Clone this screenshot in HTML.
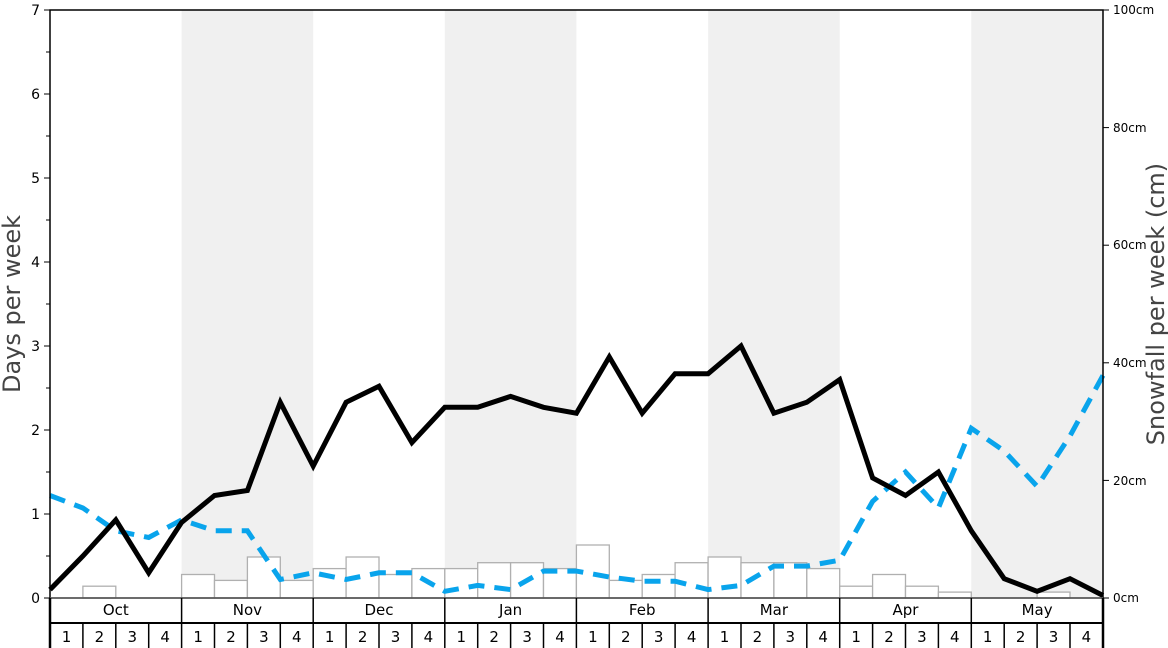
<!DOCTYPE html>
<html><head><meta charset="utf-8"><style>
html,body{margin:0;padding:0;background:#fff;}
svg{display:block;font-family:"DejaVu Sans","Liberation Sans",sans-serif;}
</style></head><body>
<svg width="1168" height="648" viewBox="0 0 1168 648" xmlns="http://www.w3.org/2000/svg">
<rect width="1168" height="648" fill="#fff"/>
<!-- shaded months -->
<rect x="181.6" y="10" width="131.6" height="588" fill="#f0f0f0"/>
<rect x="444.8" y="10" width="131.6" height="588" fill="#f0f0f0"/>
<rect x="708.1" y="10" width="131.6" height="588" fill="#f0f0f0"/>
<rect x="971.3" y="10" width="131.7" height="588" fill="#f0f0f0"/>
<!-- bars -->
<g fill="#fff" stroke="#b0b0b0" stroke-width="1.3">
<rect x="82.9" y="586.2" width="32.9" height="11.8"/>
<rect x="181.6" y="574.5" width="32.9" height="23.5"/>
<rect x="214.5" y="580.4" width="32.9" height="17.6"/>
<rect x="247.4" y="557" width="32.9" height="41"/>
<rect x="280.3" y="580.4" width="32.9" height="17.6"/>
<rect x="313.2" y="568.6" width="32.9" height="29.4"/>
<rect x="346.1" y="557" width="32.9" height="41"/>
<rect x="379" y="574.5" width="32.9" height="23.5"/>
<rect x="411.9" y="568.6" width="32.9" height="29.4"/>
<rect x="444.8" y="568.6" width="32.9" height="29.4"/>
<rect x="477.7" y="562.7" width="32.9" height="35.3"/>
<rect x="510.6" y="562.7" width="32.9" height="35.3"/>
<rect x="543.5" y="568.6" width="32.9" height="29.4"/>
<rect x="576.4" y="545" width="32.9" height="53"/>
<rect x="609.3" y="580.4" width="32.9" height="17.6"/>
<rect x="642.2" y="574.5" width="32.9" height="23.5"/>
<rect x="675.1" y="562.7" width="32.9" height="35.3"/>
<rect x="708.1" y="557" width="32.9" height="41"/>
<rect x="741" y="562.7" width="32.9" height="35.3"/>
<rect x="773.9" y="562.7" width="32.9" height="35.3"/>
<rect x="806.8" y="568.6" width="32.9" height="29.4"/>
<rect x="839.7" y="586.2" width="32.9" height="11.8"/>
<rect x="872.6" y="574.5" width="32.9" height="23.5"/>
<rect x="905.5" y="586.2" width="32.9" height="11.8"/>
<rect x="938.4" y="592.1" width="32.9" height="5.9"/>
<rect x="1037.1" y="592.1" width="32.9" height="5.9"/>
</g>
<!-- blue dashed -->
<polyline fill="none" stroke="#09a4ec" stroke-width="5" stroke-dasharray="16,10" points="50,495.5 82.9,508 115.8,530.8 148.7,537.5 181.6,519.9 214.5,530.8 247.4,530.8 280.3,579.5 313.2,572.8 346.1,579.5 379,572.8 411.9,572.8 444.8,591.3 477.7,585.4 510.6,589.6 543.5,571.1 576.4,571.1 609.3,577 642.2,581.2 675.1,581.2 708.1,589.6 741,585.4 773.9,566.1 806.8,566.1 839.7,560.2 872.6,501.4 905.5,472 938.4,508 971.3,428.3 1004.2,451 1037.1,486.3 1070,435.9 1103,375.4"/>
<!-- black line -->
<polyline fill="none" stroke="#000" stroke-width="5" stroke-linejoin="miter" points="50,589.6 82.9,556 115.8,519.9 148.7,572.8 181.6,522.4 214.5,495.5 247.4,490.5 280.3,402.3 313.2,466.1 346.1,402.3 379,386.3 411.9,442.6 444.8,407.3 477.7,407.3 510.6,396.4 543.5,407.3 576.4,413.2 609.3,356.9 642.2,413.2 675.1,373.7 708.1,373.7 741,346 773.9,413.2 806.8,402.3 839.7,379.6 872.6,477.9 905.5,495.5 938.4,472 971.3,530.8 1004.2,578.7 1037.1,591.3 1070,578.7 1103,595.5"/>
<!-- frame -->
<rect x="50" y="10" width="1053" height="588" fill="none" stroke="#000" stroke-width="1.5"/>
<line x1="50" y1="598" x2="1103" y2="598" stroke="#666" stroke-width="1.5"/>
<!-- left ticks -->
<g stroke="#000" stroke-width="1">
<line x1="44" y1="598" x2="50" y2="598"/><line x1="44" y1="514" x2="50" y2="514"/><line x1="44" y1="430" x2="50" y2="430"/><line x1="44" y1="346" x2="50" y2="346"/><line x1="44" y1="262" x2="50" y2="262"/><line x1="44" y1="178" x2="50" y2="178"/><line x1="44" y1="94" x2="50" y2="94"/><line x1="44" y1="10" x2="50" y2="10"/>
<line x1="46" y1="556" x2="50" y2="556"/><line x1="46" y1="472" x2="50" y2="472"/><line x1="46" y1="388" x2="50" y2="388"/><line x1="46" y1="304" x2="50" y2="304"/><line x1="46" y1="220" x2="50" y2="220"/><line x1="46" y1="136" x2="50" y2="136"/><line x1="46" y1="52" x2="50" y2="52"/>
<line x1="1103" y1="598" x2="1109" y2="598"/><line x1="1103" y1="480.4" x2="1109" y2="480.4"/><line x1="1103" y1="362.8" x2="1109" y2="362.8"/><line x1="1103" y1="245.2" x2="1109" y2="245.2"/><line x1="1103" y1="127.6" x2="1109" y2="127.6"/><line x1="1103" y1="10" x2="1109" y2="10"/>
</g>
<g font-size="14" fill="#000" text-anchor="end">
<text x="40" y="603">0</text><text x="40" y="519">1</text><text x="40" y="435">2</text><text x="40" y="351">3</text><text x="40" y="267">4</text><text x="40" y="183">5</text><text x="40" y="99">6</text><text x="40" y="15">7</text>
</g>
<g font-size="12" fill="#000">
<text x="1113" y="602">0cm</text><text x="1113" y="485">20cm</text><text x="1113" y="367">40cm</text><text x="1113" y="249">60cm</text><text x="1113" y="132">80cm</text><text x="1113" y="14">100cm</text>
</g>
<text transform="translate(20,304) rotate(-90)" font-size="24" fill="#444" text-anchor="middle">Days per week</text>
<text transform="translate(1164,304) rotate(-90)" font-size="24" fill="#444" text-anchor="middle">Snowfall per week (cm)</text>
<!-- month/week rows -->
<g stroke="#000" stroke-width="1.5" fill="none">
<line x1="50" y1="623" x2="1103" y2="623" stroke-width="2"/>
<line x1="50" y1="598" x2="50" y2="648" stroke-width="2.5"/><line x1="1103" y1="598" x2="1103" y2="648" stroke-width="2.5"/>
<line x1="181.6" y1="598" x2="181.6" y2="648"/><line x1="313.2" y1="598" x2="313.2" y2="648"/><line x1="444.8" y1="598" x2="444.8" y2="648"/><line x1="576.4" y1="598" x2="576.4" y2="648"/><line x1="708.1" y1="598" x2="708.1" y2="648"/><line x1="839.7" y1="598" x2="839.7" y2="648"/><line x1="971.3" y1="598" x2="971.3" y2="648"/>
<line x1="82.9" y1="623" x2="82.9" y2="648"/><line x1="115.8" y1="623" x2="115.8" y2="648"/><line x1="148.7" y1="623" x2="148.7" y2="648"/>
<line x1="214.5" y1="623" x2="214.5" y2="648"/><line x1="247.4" y1="623" x2="247.4" y2="648"/><line x1="280.3" y1="623" x2="280.3" y2="648"/>
<line x1="346.1" y1="623" x2="346.1" y2="648"/><line x1="379" y1="623" x2="379" y2="648"/><line x1="411.9" y1="623" x2="411.9" y2="648"/>
<line x1="477.7" y1="623" x2="477.7" y2="648"/><line x1="510.6" y1="623" x2="510.6" y2="648"/><line x1="543.5" y1="623" x2="543.5" y2="648"/>
<line x1="609.3" y1="623" x2="609.3" y2="648"/><line x1="642.2" y1="623" x2="642.2" y2="648"/><line x1="675.1" y1="623" x2="675.1" y2="648"/>
<line x1="741" y1="623" x2="741" y2="648"/><line x1="773.9" y1="623" x2="773.9" y2="648"/><line x1="806.8" y1="623" x2="806.8" y2="648"/>
<line x1="872.6" y1="623" x2="872.6" y2="648"/><line x1="905.5" y1="623" x2="905.5" y2="648"/><line x1="938.4" y1="623" x2="938.4" y2="648"/>
<line x1="1004.2" y1="623" x2="1004.2" y2="648"/><line x1="1037.1" y1="623" x2="1037.1" y2="648"/><line x1="1070" y1="623" x2="1070" y2="648"/>
</g>
<g font-size="15" fill="#000" text-anchor="middle">
<text x="115.8" y="615">Oct</text><text x="247.4" y="615">Nov</text><text x="379" y="615">Dec</text><text x="510.6" y="615">Jan</text><text x="642.2" y="615">Feb</text><text x="773.9" y="615">Mar</text><text x="905.5" y="615">Apr</text><text x="1037.1" y="615">May</text>
</g>
<g font-size="15" fill="#000" text-anchor="middle">
<text x="66.5" y="642">1</text><text x="99.4" y="642">2</text><text x="132.3" y="642">3</text><text x="165.2" y="642">4</text>
<text x="198.1" y="642">1</text><text x="231" y="642">2</text><text x="263.9" y="642">3</text><text x="296.8" y="642">4</text>
<text x="329.7" y="642">1</text><text x="362.6" y="642">2</text><text x="395.5" y="642">3</text><text x="428.4" y="642">4</text>
<text x="461.3" y="642">1</text><text x="494.2" y="642">2</text><text x="527.1" y="642">3</text><text x="560" y="642">4</text>
<text x="592.9" y="642">1</text><text x="625.8" y="642">2</text><text x="658.7" y="642">3</text><text x="691.6" y="642">4</text>
<text x="724.5" y="642">1</text><text x="757.4" y="642">2</text><text x="790.3" y="642">3</text><text x="823.2" y="642">4</text>
<text x="856.1" y="642">1</text><text x="889" y="642">2</text><text x="921.9" y="642">3</text><text x="954.8" y="642">4</text>
<text x="987.7" y="642">1</text><text x="1020.6" y="642">2</text><text x="1053.5" y="642">3</text><text x="1086.4" y="642">4</text>
</g>
</svg>
</body></html>
